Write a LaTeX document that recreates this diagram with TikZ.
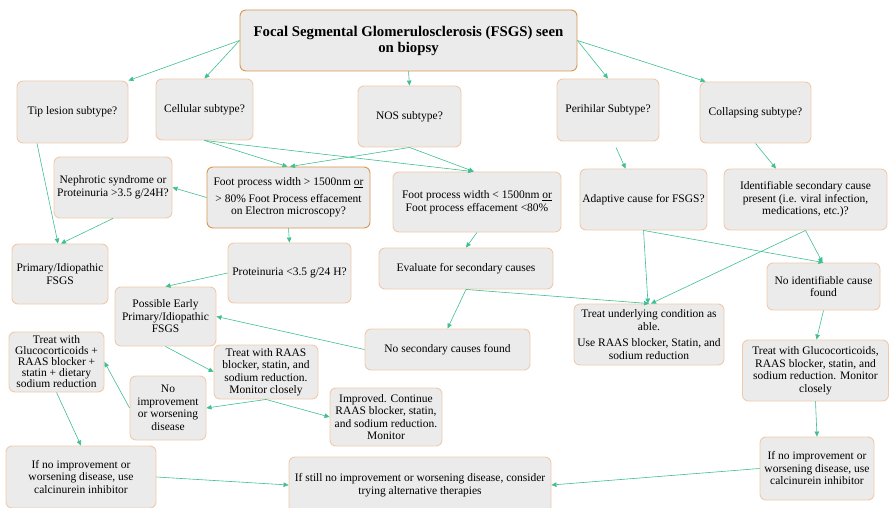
\documentclass[tikz,border=0pt]{standalone}
\usepackage{fontspec}
\setmainfont{Liberation Serif}
\usetikzlibrary{arrows.meta}
\definecolor{boxfill}{HTML}{EBEBEB}
\definecolor{boxline}{HTML}{F0C9AB}
\definecolor{boxdark}{HTML}{D9964F}
\definecolor{flowline}{HTML}{3FBF93}
\tikzset{
  box/.style={draw=boxline, fill=boxfill, line width=0.9pt, rounded corners=6pt, align=center, inner sep=1pt, font=\fontsize{11.5}{12.5}\selectfont},
  keybox/.style={box, draw=boxdark},
  flow/.style={draw=flowline, line width=0.6pt, -{Triangle[length=5pt,width=4.5pt]}}
}
\begin{document}
\begin{tikzpicture}[x=1pt,y=-1pt]
\useasboundingbox (0,0) rectangle (889,508);
\node[keybox, minimum width=337pt, minimum height=61pt, font=\fontsize{14.8}{16}\selectfont\bfseries] (title) at (408.5,40.5) {Focal Segmental Glomerulosclerosis (FSGS) seen\\ on biopsy};
\node[box, minimum width=111pt, minimum height=62pt] (tip) at (72.5,112) {Tip lesion subtype?};
\node[box, minimum width=97pt, minimum height=61pt] (cellular) at (204.5,109.5) {Cellular subtype?};
\node[box, minimum width=103pt, minimum height=61pt] (nos) at (409.5,116.5) {NOS subtype?};
\node[box, minimum width=102pt, minimum height=62pt] (perihilar) at (608,110) {Perihilar Subtype?};
\node[box, minimum width=111pt, minimum height=61pt] (collapsing) at (755.5,112.5) {Collapsing subtype?};
\node[box, minimum width=118pt, minimum height=61pt] (nephrotic) at (113,187.5) {Nephrotic syndrome or\\ Proteinuria >3.5 g/24H?};
\node[keybox, minimum width=163pt, minimum height=61pt] (footwide) at (288.5,197.5) {Foot process width > 1500nm \underline{or}\\[4pt] > 80\% Foot Process effacement\\ on Electron microscopy?};
\node[box, minimum width=168pt, minimum height=60pt] (footnarrow) at (477,202) {Foot process width < 1500nm \underline{or}\\ Foot process effacement <80\%};
\node[box, minimum width=127pt, minimum height=61pt] (adaptive) at (643.5,199.5) {Adaptive cause for FSGS?};
\node[box, minimum width=163pt, minimum height=61pt] (identif) at (805.5,199.5) {Identifiable secondary cause\\ present (i.e. viral infection,\\ medications, etc.)?};
\node[box, minimum width=96pt, minimum height=60pt] (primary) at (60,274) {Primary/Idiopathic\\ FSGS};
\node[box, minimum width=123pt, minimum height=60pt] (protein) at (289.5,273) {Proteinuria <3.5 g/24 H?};
\node[box, minimum width=174pt, minimum height=41pt] (evaluate) at (466,268.5) {Evaluate for secondary causes};
\node[box, minimum width=113pt, minimum height=47pt] (noident) at (823.5,286.5) {No identifiable cause\\ found};
\node[box, minimum width=101pt, minimum height=59pt] (possible) at (165.5,316.5) {Possible Early\\ Primary/Idiopathic\\ FSGS};
\node[box, minimum width=165pt, minimum height=41pt] (nosec) at (447.5,349.5) {No secondary causes found};
\node[box, minimum width=150pt, minimum height=61pt] (underlying) at (649,334.5) {Treat underlying condition as\\ able.\\[4pt] Use RAAS blocker, Statin, and\\ sodium reduction};
\node[box, minimum width=95pt, minimum height=60pt, font=\fontsize{11.5}{11}\selectfont] (glucoL) at (56.5,362) {Treat with\\ Glucocorticoids +\\ RAAS blocker +\\ statin + dietary\\ sodium reduction};
\node[box, minimum width=104pt, minimum height=54pt] (raas) at (266,372) {Treat with RAAS\\ blocker, statin, and\\ sodium reduction.\\ Monitor closely};
\node[box, minimum width=76pt, minimum height=64pt] (noimpr) at (168,408) {No\\ improvement\\ or worsening\\ disease};
\node[box, minimum width=112pt, minimum height=58pt] (improved) at (386,417) {Improved. Continue\\ RAAS blocker, statin,\\ and sodium reduction.\\ Monitor};
\node[box, minimum width=146pt, minimum height=61pt] (glucoR) at (815.5,370.5) {Treat with Glucocorticoids,\\ RAAS blocker, statin, and\\ sodium reduction. Monitor\\ closely};
\node[box, minimum width=150pt, minimum height=62pt] (ifnoL) at (81,477) {If no improvement or\\ worsening disease, use\\ calcinurein inhibitor};
\node[box, minimum width=262pt, minimum height=56pt] (ifstill) at (420,485) {If still no improvement or worsening disease, consider\\ trying alternative therapies};
\node[box, minimum width=114pt, minimum height=63pt] (ifnoR) at (817,468.5) {If no improvement or\\ worsening disease, use\\ calcinurein inhibitor};
\draw[flow] (title.west) -- (tip.north east);
\draw[flow] (title.west) -- (cellular.north);
\draw[flow] (title.south) -- (nos.north);
\draw[flow] (title.east) -- (perihilar.north);
\draw[flow] (title.east) -- ([xshift=6pt]collapsing.north west);
\draw[flow] ([xshift=-35.5pt]tip.south) -- ([xshift=-2pt]primary.north);
\draw[flow] (cellular.south) -- ([xshift=-1pt]footwide.north);
\draw[flow] (cellular.south) -- ([xshift=-4pt]footnarrow.north);
\draw[flow] (nos.south) -- ([xshift=1.5pt]footwide.north);
\draw[flow] (nos.south) -- ([xshift=-3pt]footnarrow.north);
\draw[flow] (footwide.west) -- (nephrotic.east);
\draw[flow] (nephrotic.south) -- ([xshift=1pt]primary.north);
\draw[flow] (footwide.south) -- (protein.north);
\draw[flow] (protein.west) -- (possible.north);
\draw[flow] (footnarrow.south) -- (evaluate.north);
\draw[flow] (evaluate.south) -- (nosec.north);
\draw[flow] (evaluate.south) -- (underlying.north);
\draw[flow] ([xshift=8pt,yshift=-6pt]perihilar.south) -- ([xshift=-18pt]adaptive.north);
\draw[flow] (collapsing.south) -- ([xshift=-29.5pt]identif.north);
\draw[flow] (adaptive.south) -- ([xshift=-1pt]underlying.north);
\draw[flow] (adaptive.south) -- (noident.north);
\draw[flow] (identif.south) -- ([xshift=2pt]underlying.north);
\draw[flow] (identif.south) -- ([xshift=-1pt]noident.north);
\draw[flow] (noident.south) -- ([xshift=1pt]glucoR.north);
\draw[flow] (glucoR.south) -- (ifnoR.north);
\draw[flow] (ifnoR.west) -- (ifstill.east);
\draw[flow] (nosec.west) -- (possible.east);
\draw[flow] (possible.south) -- (raas.west);
\draw[flow] (raas.south) -- (noimpr.east);
\draw[flow] (raas.south) -- (improved.west);
\draw[flow] (noimpr.west) -- (glucoL.east);
\draw[flow] (glucoL.south) -- (ifnoL.north);
\draw[flow] (ifnoL.east) -- (ifstill.west);
\end{tikzpicture}
\end{document}
